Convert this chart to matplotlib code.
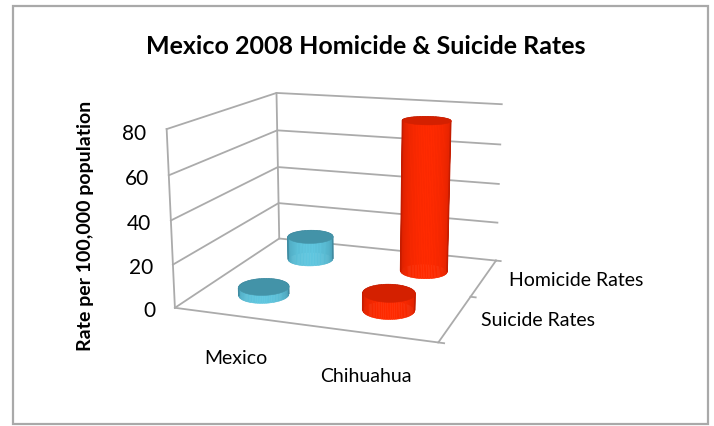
import numpy as np
import matplotlib
matplotlib.use('Agg')
import matplotlib.pyplot as plt
from matplotlib.patches import Rectangle
from mpl_toolkits.mplot3d import proj3d
from mpl_toolkits.mplot3d.art3d import Poly3DCollection

places = ['Mexico', 'Chihuahua']
series_names = ['Suicide Rates', 'Homicide Rates']
suicide = [4, 8]
homicide = [12, 75]
z_ticks = [0, 20, 40, 60, 80]

W, H = 714, 426
plt.rcParams['font.family'] = ['Lato', 'DejaVu Sans']
line_col = '#ababab'

fig = plt.figure(figsize=(W/100, H/100), dpi=100, facecolor='white')

# outer chart border
fig.add_artist(Rectangle((13/W, 1-424/H), 695/W, 418/H, transform=fig.transFigure,
                         fill=False, ec='#a9a9a9', lw=1.6))

ax = fig.add_subplot(111, projection='3d', computed_zorder=False)
ax.set_xlim(0, 2, view_margin=0)
ax.set_ylim(0, 2, view_margin=0)
ax.set_zlim(0, 80, view_margin=0)
# camera fitted against the corners of the reference
ax.view_init(elev=14.1671, azim=-70.24, roll=0.0879)
ax.set_proj_type('persp', focal_length=0.4792)
ax.set_box_aspect((1, 0.9635, 0.6676))
cx, cy, s = 341.3078, 206.1117, 385.3022
ax.set_position([(cx-s/2)/W, 1-(cy+s/2)/H, s/W, s/H])
ax.set_axis_off()
ax.patch.set_alpha(0)
ax.apply_aspect()
M = ax.get_proj()

def wall_line(xs, ys, zs):
    ax.plot(xs, ys, zs, color=line_col, lw=1.3, zorder=1, clip_on=False)

for z in z_ticks:
    wall_line([0, 0, 2], [0, 2, 2], [z, z, z])
wall_line([0, 0], [0, 0], [0, 80])
wall_line([0, 0], [2, 2], [0, 80])
wall_line([0, 2, 2], [0, 0, 2], [0, 0, 0])
# little tick marks on the depth axis
for y in range(3):
    wall_line([2, 2.04], [y, y], [0, 0])

def cylinder(x, y, h, side_dark, side_light, top_col):
    rx, ry = 0.19, 0.2
    th = np.linspace(0, 2*np.pi, 91)
    tt, zz = np.meshgrid(th, [0, h])
    xx = x + rx*np.cos(tt)
    yy = y + ry*np.sin(tt)
    # brightest part faces the viewer, falls off to the silhouette
    tm = (th[:-1] + th[1:])/2
    view = np.deg2rad(-70.24)
    k = np.clip(np.cos(tm - view), 0, 1)**0.7
    dark = np.array(matplotlib.colors.to_rgb(side_dark))
    light = np.array(matplotlib.colors.to_rgb(side_light))
    cols = dark + (light-dark)*k[:, None]
    cols = np.c_[cols, np.ones(len(cols))][None, :, :]
    surf = ax.plot_surface(xx, yy, zz, facecolors=cols, rstride=1, cstride=1,
                           shade=False, linewidth=0.4, zorder=3, antialiased=True)
    surf.set_edgecolor(cols[0])
    # clean outer edges, the thin facets alone leave them jagged
    px, _, _ = proj3d.proj_transform(xx[0], yy[0], zz[1], M)
    for i in (np.argmin(px), np.argmax(px)):
        ax.plot([xx[0, i]]*2, [yy[0, i]]*2, [0, h], color=side_dark, lw=1.1,
                zorder=3.5, solid_capstyle='butt')
    top = np.c_[xx[0], yy[0], np.full(len(th), h)]
    cap = Poly3DCollection([top], facecolor=top_col, edgecolor=top_col,
                           linewidth=0.4, zorder=4)
    ax.add_collection3d(cap)

blue = ('#3f8aa0', '#5fc6df', '#4393a8')
red = ('#c41c00', '#ff2a00', '#d42000')
# drawn back row first
cylinder(0.5, 1.5, homicide[0], *blue)
cylinder(1.5, 1.5, homicide[1], *red)
cylinder(0.5, 0.5, suicide[0], *blue)
cylinder(1.5, 0.5, suicide[1], *red)

# text
fig.text(366/W, 1-47/H, 'Mexico 2008 Homicide & Suicide Rates', ha='center', va='center',
         fontsize=18, fontweight='bold', color='black')
fig.text(85/W, 1-226/H, 'Rate per 100,000 population', rotation=90, ha='center', va='center',
         fontsize=14, fontweight='bold', color='black')
for z in z_ticks:
    px, py, _ = proj3d.proj_transform(-0.165, 0, z - 2.5, M)
    ax.text2D(px, py, str(z), transform=ax.transData, ha='right', va='center',
              fontsize=15, color='black')
fig.text(236/W, 1-359/H, places[0], ha='center', va='center', fontsize=14)
fig.text(366/W, 1-377/H, places[1], ha='center', va='center', fontsize=14)
fig.text(538/W, 1-321/H, series_names[0], ha='center', va='center', fontsize=14)
fig.text(576/W, 1-280/H, series_names[1], ha='center', va='center', fontsize=14)

fig.savefig('out.png', dpi=100)
